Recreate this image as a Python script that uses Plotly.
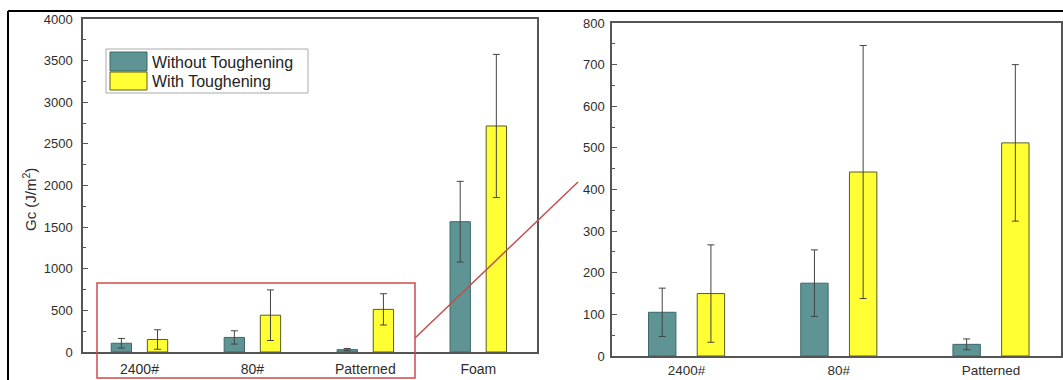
import plotly.graph_objects as go

# ---- data ----
categories = ["2400#", "80#", "Patterned", "Foam"]
without_mean = [105, 175, 28, 1565]
without_err = [58, 80, 13, 485]
with_mean = [150, 442, 512, 2715]
with_err = [117, 304, 188, 860]
zoom_categories = categories[:3]

left_ticks = [0, 500, 1000, 1500, 2000, 2500, 3000, 3500, 4000]
right_ticks = [0, 100, 200, 300, 400, 500, 600, 700, 800]

W, H = 1063, 380
def px(x):
    return x / W
def py(y):
    return 1 - y / H

TEAL = "#5f9494"
TEAL_LINE = "#3d6868"
YEL = "#ffff33"
YEL_LINE = "#5c5c1c"
AX = "#555555"
FONT = "Liberation Sans, Arial, sans-serif"
TXT = "#2e2e2e"

fig = go.Figure()

def add_pair(xref, yref, cats, n):
    fig.add_trace(go.Bar(
        x=cats, y=without_mean[:n], name="Without Toughening",
        xaxis=xref, yaxis=yref, width=0.18, offset=-0.25,
        marker=dict(color=TEAL, line=dict(color=TEAL_LINE, width=1)),
        error_y=dict(type="data", array=without_err[:n], color="#444444", thickness=1, width=3.5),
        showlegend=False))
    fig.add_trace(go.Bar(
        x=cats, y=with_mean[:n], name="With Toughening",
        xaxis=xref, yaxis=yref, width=0.18, offset=0.07,
        marker=dict(color=YEL, line=dict(color=YEL_LINE, width=1)),
        error_y=dict(type="data", array=with_err[:n], color="#444444", thickness=1, width=3.5),
        showlegend=False))

add_pair("x", "y", categories, 4)
add_pair("x2", "y2", zoom_categories, 3)

common_x = dict(showline=True, linecolor=AX, linewidth=1.5, mirror=True, ticks="",
                showgrid=False, zeroline=False, automargin=False, fixedrange=True)
common_y = dict(showline=True, linecolor=AX, linewidth=1.5, mirror=True, ticks="inside",
                ticklen=5, tickcolor=AX, showgrid=False, zeroline=False, automargin=False,
                tickfont=dict(family=FONT, size=13, color=TXT))

fig.update_layout(
    width=W, height=H,
    margin=dict(l=0, r=0, t=0, b=0),
    paper_bgcolor="white", plot_bgcolor="white",
    barmode="group",
    showlegend=False,
    xaxis=dict(domain=[px(83), px(537)], range=[-0.5, 3.52], anchor="y",
               ticklabelstandoff=3, tickfont=dict(family=FONT, size=14, color=TXT), **common_x),
    yaxis=dict(domain=[py(352), py(19)], range=[0, 4000], tickvals=left_ticks, anchor="x",
               ticklabelstandoff=6,
               minor=dict(ticks="inside", ticklen=3, dtick=250, tickcolor=AX), **common_y),
    xaxis2=dict(domain=[px(612), px(1061)], range=[-0.49, 2.46], anchor="y2",
                ticklabelstandoff=1, tickfont=dict(family=FONT, size=13.5, color=TXT), **common_x),
    yaxis2=dict(domain=[py(356), py(23)], range=[0, 800], tickvals=right_ticks, anchor="x2",
                ticklabelstandoff=3,
                minor=dict(ticks="inside", ticklen=3, dtick=50, tickcolor=AX), **common_y),
)

shapes = []
# outer frame (left and top visible)
shapes.append(dict(type="line", xref="paper", yref="paper", x0=px(8), x1=1.0, y0=py(11), y1=py(11),
                   line=dict(color="black", width=2)))
shapes.append(dict(type="line", xref="paper", yref="paper", x0=px(8), x1=px(8), y0=py(11), y1=0,
                   line=dict(color="black", width=2)))
# red zoom rectangle and connector
shapes.append(dict(type="rect", xref="paper", yref="paper", x0=px(97), x1=px(415), y0=py(378), y1=py(283),
                   line=dict(color="#d0494c", width=1.5)))
shapes.append(dict(type="line", xref="paper", yref="paper", x0=px(415), x1=px(578), y0=py(338), y1=py(182),
                   line=dict(color="#c0504d", width=1.5)))
# legend box and swatches
shapes.append(dict(type="rect", xref="paper", yref="paper", x0=px(106), x1=px(308), y0=py(93), y1=py(49),
                   line=dict(color="#aaaaaa", width=1), fillcolor="white"))
shapes.append(dict(type="rect", xref="paper", yref="paper", x0=px(110), x1=px(147), y0=py(71), y1=py(52),
                   line=dict(color=TEAL_LINE, width=1), fillcolor=TEAL))
shapes.append(dict(type="rect", xref="paper", yref="paper", x0=px(110), x1=px(147), y0=py(90), y1=py(72),
                   line=dict(color=YEL_LINE, width=1), fillcolor=YEL))
fig.update_layout(shapes=shapes)

annotations = [
    dict(text="Without Toughening", x=px(150), y=py(62), xref="paper", yref="paper",
         xanchor="left", yanchor="middle", showarrow=False,
         font=dict(family=FONT, size=16, color="#222222")),
    dict(text="With Toughening", x=px(150), y=py(81), xref="paper", yref="paper",
         xanchor="left", yanchor="middle", showarrow=False,
         font=dict(family=FONT, size=16, color="#222222")),
    dict(text="Gc (J/m<sup>2</sup>)", x=px(29), y=py(200), xref="paper", yref="paper",
         xanchor="center", yanchor="middle", textangle=-90, showarrow=False,
         font=dict(family=FONT, size=15, color=TXT)),
]
fig.update_layout(annotations=annotations)

fig.write_html("out.html")
